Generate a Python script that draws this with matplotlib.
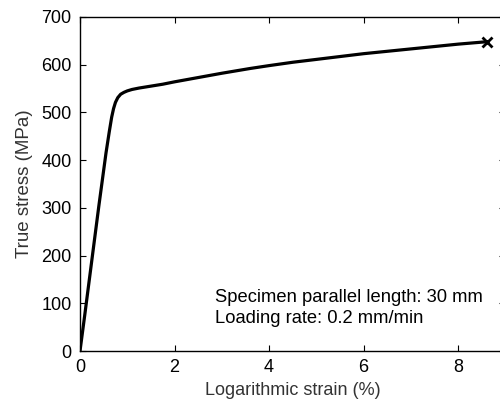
import numpy as np
from matplotlib import pyplot as plt

# stress-strain curve
strain = [0, 0.1, 0.25, 0.4, 0.55, 0.62, 0.67, 0.71, 0.75, 0.8, 0.86, 0.93, 1.0,
          1.1, 1.25, 1.5, 1.75, 2.0, 2.5, 3.0, 3.6, 4.0, 4.5, 5.0, 5.5, 6.0,
          6.5, 7.0, 7.5, 8.0, 8.6]
stress = [0, 75, 190, 305, 415, 460, 490, 508, 521, 531, 538, 542, 545,
          548, 551, 555, 559, 564, 573, 582, 592, 598, 605, 611, 617, 623,
          628, 633, 638, 643, 648]
xticks = [0, 2, 4, 6, 8]
yticks = [0, 100, 200, 300, 400, 500, 600, 700]

plt.rcParams['font.family'] = ['Liberation Sans', 'DejaVu Sans']

fig = plt.figure(figsize=(5, 4.03), dpi=100)
ax = fig.add_axes([0.16, 0.129, 0.851, 0.829])

ax.plot(strain, stress, 'k-', lw=2.3, solid_joinstyle='round')
# fracture point
ax.plot([strain[-1]], [stress[-1]], 'kx', ms=7, mew=2)

ax.set_xlim(0, 9)
ax.set_ylim(0, 700)
ax.set_xticks(xticks)
ax.set_yticks(yticks)
ax.tick_params(direction='in', top=True, right=True, length=4, labelsize=13)
ax.tick_params(axis='x', pad=6)
ax.tick_params(axis='y', pad=6)
for s in ax.spines.values():
    s.set_linewidth(1.0)

ax.set_xlabel('Logarithmic strain (%)', fontsize=13, color='#333333', labelpad=4)
ax.set_ylabel('True stress (MPa)', fontsize=13.5, color='#333333', labelpad=6)

ax.text(2.85, 113, 'Specimen parallel length: 30 mm', fontsize=13.2, va='center')
ax.text(2.85, 69, 'Loading rate: 0.2 mm/min', fontsize=13.2, va='center')

fig.savefig('out.png', dpi=100)
